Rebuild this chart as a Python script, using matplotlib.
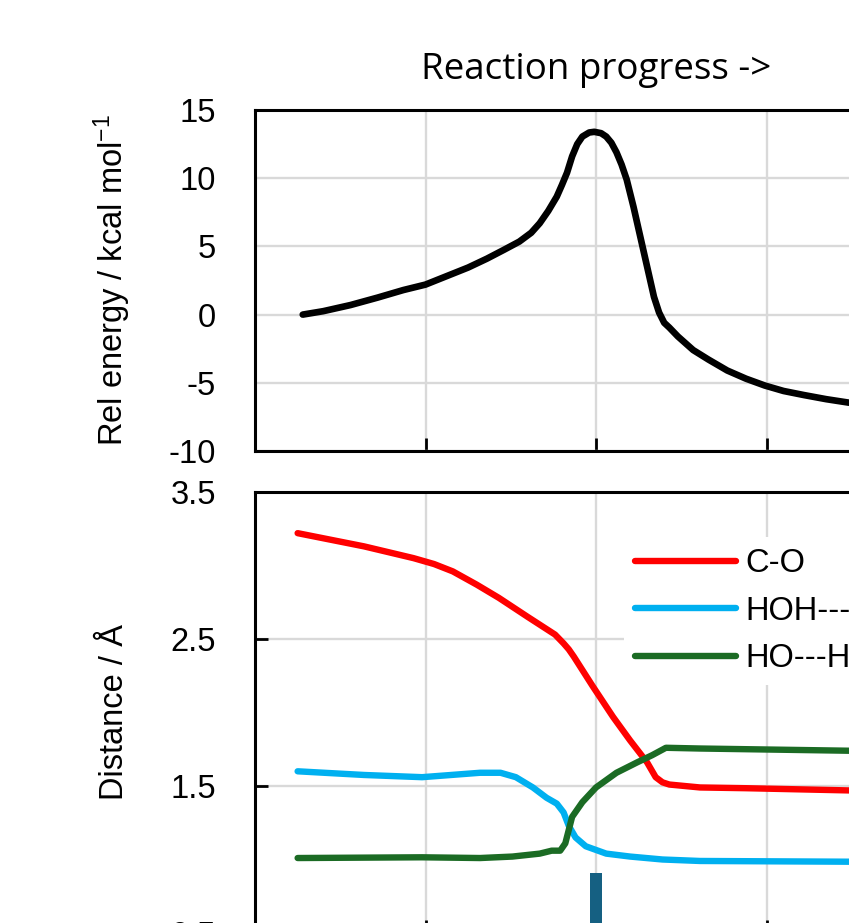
import numpy as np
import matplotlib
matplotlib.use('Agg')
import matplotlib.pyplot as plt

plt.rcParams['font.family'] = ['Liberation Sans', 'DejaVu Sans']
plt.rcParams['mathtext.fontset'] = 'custom'
plt.rcParams['mathtext.rm'] = 'Liberation Sans'
plt.rcParams['mathtext.default'] = 'regular'
plt.rcParams['axes.unicode_minus'] = False

# Energy profile (reaction coordinate in tick units)
e_x = [0.28, 0.40, 0.56, 0.72, 0.87, 1.00, 1.13, 1.25, 1.36, 1.46, 1.55, 1.62, 1.67,
       1.72, 1.77, 1.80, 1.83, 1.86, 1.89, 1.92, 1.96, 1.99, 2.03, 2.06, 2.09, 2.12,
       2.15, 2.18, 2.22, 2.26, 2.30, 2.34, 2.37, 2.40, 2.43, 2.48, 2.57, 2.66, 2.77,
       2.88, 2.99, 3.10, 3.22, 3.35, 3.48, 3.70]
e_y = [0.0, 0.25, 0.7, 1.25, 1.8, 2.2, 2.85, 3.45, 4.1, 4.75, 5.35, 6.0, 6.7,
       7.6, 8.65, 9.5, 10.4, 11.6, 12.5, 13.05, 13.35, 13.4, 13.3, 13.05, 12.6, 11.9,
       11.0, 9.9, 7.9, 5.7, 3.5, 1.3, 0.15, -0.6, -0.95, -1.6, -2.6, -3.3, -4.1,
       -4.7, -5.2, -5.6, -5.9, -6.2, -6.45, -6.7]

# Distances
co_x = [0.25, 0.64, 0.93, 1.05, 1.16, 1.30, 1.43, 1.60, 1.76, 1.81, 1.84, 1.87, 1.98,
        2.10, 2.20, 2.30, 2.35, 2.39, 2.43, 2.61, 2.88, 3.48, 3.70]
co_y = [3.22, 3.13, 3.05, 3.01, 2.96, 2.87, 2.78, 2.65, 2.53, 2.47, 2.43, 2.38, 2.18,
        1.97, 1.81, 1.66, 1.56, 1.525, 1.51, 1.49, 1.485, 1.47, 1.47]

hoh_x = [0.25, 0.64, 0.98, 1.15, 1.32, 1.44, 1.53, 1.63, 1.71, 1.77, 1.81, 1.84, 1.88,
         1.94, 2.06, 2.20, 2.39, 2.61, 3.48, 3.70]
hoh_y = [1.60, 1.575, 1.56, 1.575, 1.59, 1.59, 1.56, 1.49, 1.42, 1.38, 1.32, 1.23, 1.15,
         1.09, 1.04, 1.02, 1.00, 0.99, 0.985, 0.985]

ho_x = [0.25, 0.98, 1.32, 1.51, 1.67, 1.74, 1.79, 1.82, 1.84, 1.86, 1.92, 2.00, 2.12,
        2.24, 2.33, 2.41, 2.61, 3.48, 3.70]
ho_y = [1.01, 1.015, 1.01, 1.02, 1.04, 1.06, 1.06, 1.11, 1.20, 1.29, 1.39, 1.49, 1.59,
        1.66, 1.71, 1.76, 1.755, 1.74, 1.74]

labels = ['C-O', 'HOH---O', 'HO---H']
colors = ['#FF0000', '#00B0F0', '#1B6B24']

# transition state marker
ts_x = [2.0]
ts_top = [0.91]

fs = 23.5

fig = plt.figure(figsize=(8.49, 9.23), dpi=100)
ax1 = fig.add_axes([255 / 849, 1 - 451 / 923, 682 / 849, 341 / 923])
ax2 = fig.add_axes([255 / 849, 1 - 933 / 923, 682 / 849, 441 / 923])

grid_kw = dict(color='#D9D9D9', linewidth=1.7)

# top panel
ax1.plot(e_x, e_y, color='black', lw=4.8, solid_capstyle='round',
         solid_joinstyle='round', zorder=3)
ax1.set_xlim(0, 4)
ax1.set_ylim(-10, 15)
ax1.set_yticks([-10, -5, 0, 5, 10, 15])
ax1.set_xticks([0, 1, 2, 3, 4])
ax1.set_xticklabels([])
ax1.grid(True, **grid_kw)
ax1.tick_params(axis='x', direction='in', length=9.5, width=2)
ax1.tick_params(axis='y', length=0, pad=28, labelsize=fs)
ax1.set_ylabel('Rel energy / kcal mol$^{-1}$', fontsize=fs)
ax1.yaxis.set_label_coords(-0.179, 0.5)
ax1.set_title('Reaction progress ->', fontsize=26.5, pad=22,
              family=['Open Sans', 'DejaVu Sans'])

# bottom panel
for xs, ys, lab, col in zip([co_x, hoh_x, ho_x], [co_y, hoh_y, ho_y], labels, colors):
    ax2.plot(xs, ys, color=col, lw=4.6, solid_capstyle='round',
             solid_joinstyle='round', label=lab, zorder=3)
ax2.bar(ts_x, np.array(ts_top) - 0.5, bottom=0.5, width=0.07, color='#156082', zorder=2)
ax2.set_xlim(0, 4)
ax2.set_ylim(0.5, 3.5)
ax2.set_yticks([0.5, 1.5, 2.5, 3.5])
ax2.set_xticks([0, 1, 2, 3, 4])
ax2.set_xticklabels([])
ax2.grid(True, **grid_kw)
ax2.tick_params(axis='x', direction='in', length=9.5, width=2)
ax2.tick_params(axis='y', direction='in', length=9, width=2, pad=28, labelsize=fs)
ax2.set_ylabel('Distance / Å', fontsize=fs)
ax2.yaxis.set_label_coords(-0.183, 0.5)

leg = ax2.legend(loc='upper left', bbox_to_anchor=(0.541, 0.898), borderaxespad=0,
                 fontsize=fs, frameon=True, framealpha=1, facecolor='white',
                 edgecolor='none', fancybox=False, borderpad=0.35, labelspacing=0.5,
                 handlelength=3.07, handletextpad=0.31)
for line in leg.get_lines():
    line.set_linewidth(4.6)
    line.set_solid_capstyle('round')

for ax in (ax1, ax2):
    for sp in ax.spines.values():
        sp.set_linewidth(2.2)
    ax.set_axisbelow(True)

fig.savefig('out.png', dpi=100)
